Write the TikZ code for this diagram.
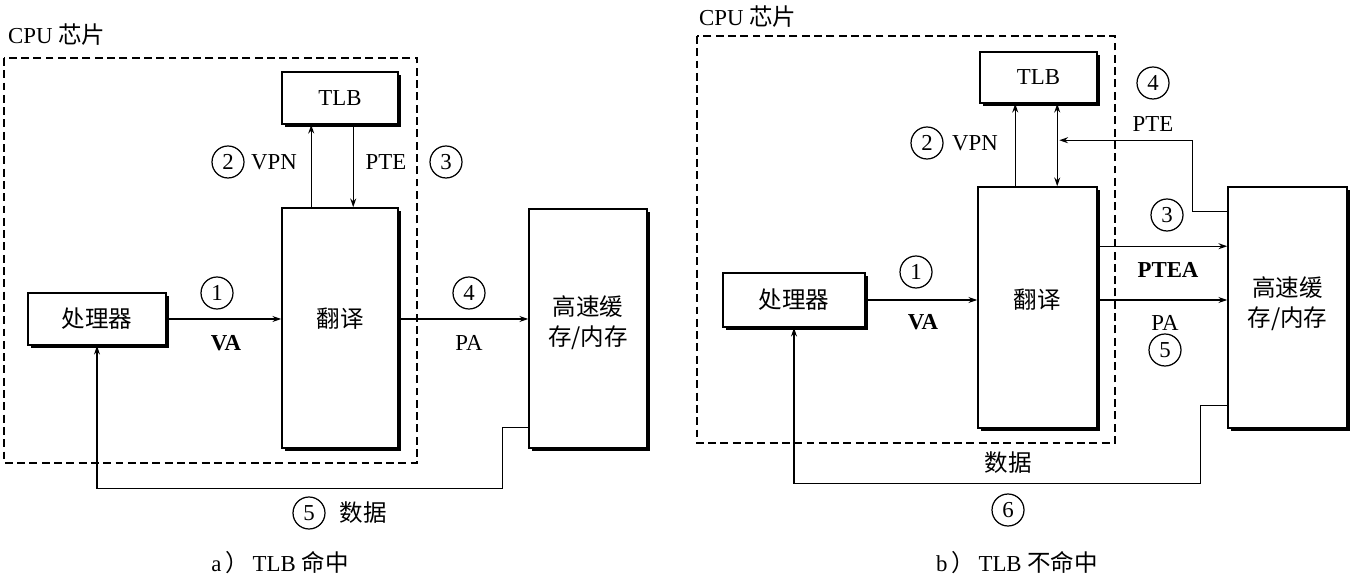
\documentclass[tikz,border=0pt]{standalone}
\usepackage{fontspec}
\setmainfont{Liberation Serif}
\newfontfamily\cjk[Scale=1.03]{Noto Sans CJK SC}
\newcommand{\zhtxt}[1]{{\cjk #1}}
\usetikzlibrary{arrows.meta, calc, shadows}

\tikzset{
  box/.style={draw, line width=0.9pt, fill=white, inner sep=2pt,
    general shadow={fill=black, shadow xshift=1.8pt, shadow yshift=-1.8pt}},
  chip/.style={draw, line width=0.9pt, dash pattern=on 4.5pt off 2.5pt},
  arr/.style={-{Stealth[length=5pt, width=3.4pt]}, line width=0.8pt},
  num/.style={circle, draw, line width=0.7pt, minimum size=0.64cm, inner sep=0pt},
}

\begin{document}
\begin{tikzpicture}[x=0.02cm, y=-0.02cm, font=\fontsize{13}{15}\selectfont]
    \useasboundingbox (0,0) rectangle (1351,580);

    % ---------- a) TLB hit ----------
    \draw[chip] (4,58) rectangle (417,463);
    \node[anchor=west] (chipA) at (2,35) {CPU \zhtxt{芯片}};
    % Boxes
    \node[box, minimum width=2.76cm, minimum height=1.04cm] (procA) at (97,319) {\zhtxt{处理器}};
    \node[box, minimum width=2.32cm, minimum height=4.8cm] (transA) at (340,328) {};
    \node (transAtxt) at (transA |- procA) {\zhtxt{翻译}};
    \node[box, minimum width=2.32cm, minimum height=1.04cm] (tlbA) at (340,98) {TLB};
    \node[box, minimum width=2.36cm, minimum height=4.78cm] (cacheA) at (588,328.5) {};
    \node[align=center, font=\fontsize{13}{17}\selectfont] (cacheAtxt) at ($(cacheA |- procA)+(0,4)$) {\zhtxt{高速缓}\\\zhtxt{存/内存}};
    % Connectors
    \draw[arr] (procA) -- (transA.west |- procA);
    \draw[arr] (transA.east |- procA) -- (cacheA.west |- procA);
    \coordinate (vpnA) at ($(transA.north west)+(30,0)$);
    \draw[arr] (vpnA) -- (vpnA |- tlbA.south);
    \coordinate (pteA) at ($(tlbA.south west)+(72,0)$);
    \draw[arr] (pteA) -- (pteA |- transA.north);
    \coordinate (dataA) at ($(cacheA.south west)+(0,-21)$);
    \draw[arr] (dataA) -- ++(-26,0) -- ++(0,61) -| (procA.south);
    % Labels
    \node[num] (n1A) at (217,293) {1};
    \node (vaA) at (226,343) {\textbf{VA}};
    \node[num] (n2A) at (228,162) {2};
    \node (vpnlA) at (274,162) {VPN};
    \node (ptelA) at (386,162) {PTE};
    \node[num] (n3A) at (446,162) {3};
    \node[num] (n4A) at (469,293) {4};
    \node (palA) at (469,343) {PA};
    \node[num] (n5A) at (309,513) {5};
    \node (datalA) at (363,513) {\zhtxt{数据}};
    \node (capA) at (280,563) {a\,\zhtxt{）}\,TLB \zhtxt{命中}};

    % ---------- b) TLB miss ----------
    \draw[chip] (697,36) rectangle (1115,443);
    \node[anchor=west] (chipB) at (693,17) {CPU \zhtxt{芯片}};
    % Boxes
    \node[box, minimum width=2.84cm, minimum height=1.08cm] (procB) at (794,300) {\zhtxt{处理器}};
    \node[box, minimum width=2.38cm, minimum height=4.82cm] (transB) at (1037.5,307.5) {};
    \node (transBtxt) at (transB |- procB) {\zhtxt{翻译}};
    \node[box, minimum width=2.34cm, minimum height=1.02cm] (tlbB) at (1038.5,77.5) {TLB};
    \node[box, minimum width=2.38cm, minimum height=4.82cm] (cacheB) at (1287.5,307.5) {};
    \node[align=center, font=\fontsize{13}{17}\selectfont] (cacheBtxt) at ($(cacheB |- procB)+(0,4)$) {\zhtxt{高速缓}\\\zhtxt{存/内存}};
    % Connectors
    \draw[arr] (procB) -- (transB.west |- procB);
    \draw[arr] (transB.east |- procB) -- (cacheB.west |- procB);
    \coordinate (pteaB) at ($(transB.north east)+(0,60)$);
    \draw[arr] (pteaB) -- (cacheB.west |- pteaB);
    \coordinate (vpnB) at ($(transB.north west)+(38,0)$);
    \draw[arr] (vpnB) -- (vpnB |- tlbB.south);
    \coordinate (pteB) at ($(transB.north west)+(80,0)$);
    \draw[arr, {Stealth[length=5pt, width=3.4pt]}-{Stealth[length=5pt, width=3.4pt]}] (pteB) -- (pteB |- tlbB.south);
    \coordinate (pteinB) at ($(cacheB.north west)+(0,25)$);
    \draw[arr] (pteinB) -- ++(-35,0) |- ($(pteB)+(2,-46)$);
    \coordinate (dataB) at ($(cacheB.south west)+(0,-23)$);
    \draw[arr] (dataB) -- ++(-27,0) -- ++(0,78) -| (procB.south);
    % Labels
    \node[num] (n1B) at (916,272) {1};
    \node (vaB) at (923,322) {\textbf{VA}};
    \node[num] (n2B) at (927,143) {2};
    \node (vpnlB) at (975,143) {VPN};
    \node[num] (n4B) at (1153,83) {4};
    \node (ptelB) at (1153,124) {PTE};
    \node[num] (n3B) at (1167,215) {3};
    \node (ptealB) at (1168,270) {\textbf{PTEA}};
    \node (palB) at (1165,323) {PA};
    \node[num] (n5B) at (1165,350) {5};
    \node (datalB) at (1008,463) {\zhtxt{数据}};
    \node[num] (n6B) at (1008,510) {6};
    \node (capB) at (1017,563) {b\,\zhtxt{）}\,TLB \zhtxt{不命中}};
\end{tikzpicture}
\end{document}
